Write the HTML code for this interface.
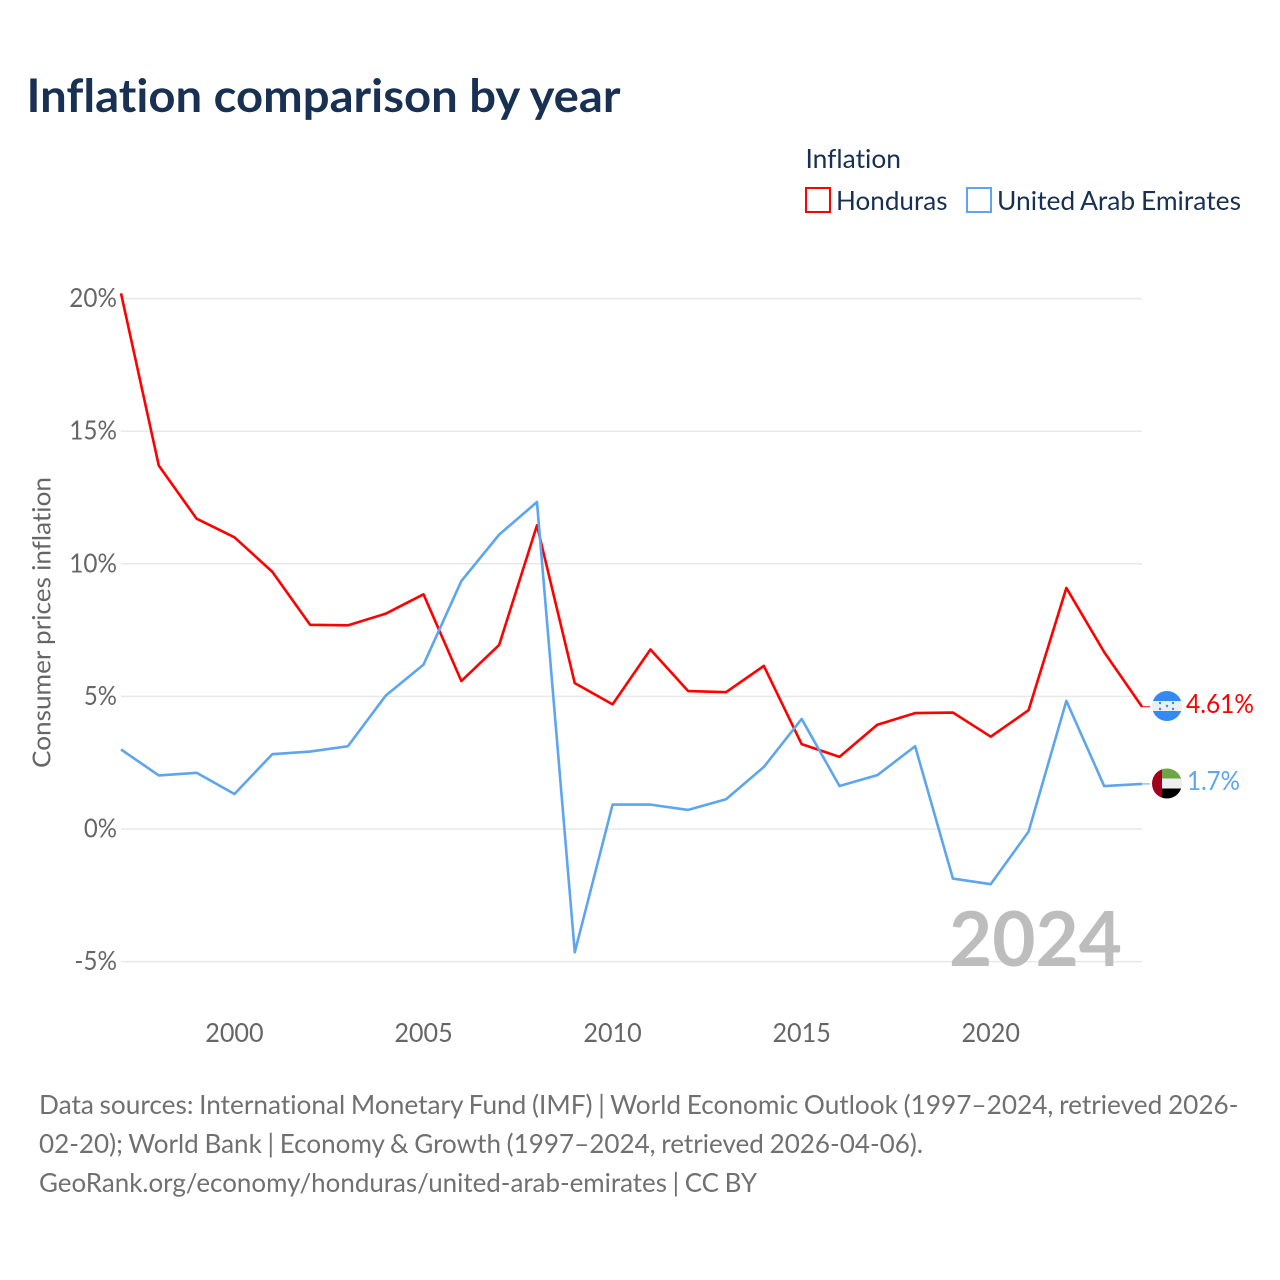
<!DOCTYPE html>
<html lang="en">
<head>
<meta charset="utf-8">
<title>Inflation comparison by year</title>
<style>
html,body{margin:0;padding:0;background:#fff;}
svg{display:block;}
text{font-family:"Lato","Carlito","Liberation Sans",sans-serif;font-variant-ligatures:none;}
</style>
</head>
<body>
<svg id="chart" xmlns="http://www.w3.org/2000/svg" width="1280" height="1280" viewBox="0 0 1280 1280">
  <defs>
    <clipPath id="clip-hn"><circle cx="1167" cy="706" r="15"/></clipPath>
    <clipPath id="clip-ae"><circle cx="1167" cy="783.5" r="15"/></clipPath>
  </defs>
  <rect x="0" y="0" width="1280" height="1280" fill="#fff"/>
  <text x="26.5" y="112" font-size="46" font-weight="700" fill="#183153" textLength="594" lengthAdjust="spacingAndGlyphs">Inflation comparison by year</text>

  <g>
    <text x="805.5" y="168" font-size="26" fill="#183153" textLength="95.5" lengthAdjust="spacingAndGlyphs">Inflation</text>
    <rect x="806" y="188" width="24" height="24" fill="none" stroke="#ff0000" stroke-width="2"/>
    <text x="836" y="210" font-size="26" fill="#183153" textLength="111.5" lengthAdjust="spacingAndGlyphs">Honduras</text>
    <rect x="967" y="188" width="24" height="24" fill="none" stroke="#5da5ee" stroke-width="2"/>
    <text x="997" y="210" font-size="26" fill="#183153" word-spacing="-1" textLength="244" lengthAdjust="spacingAndGlyphs">United Arab Emirates</text>
  </g>

  <text transform="translate(50.5,622.5) rotate(-90)" text-anchor="middle" font-size="25" fill="#666" word-spacing="-0.5" textLength="291" lengthAdjust="spacingAndGlyphs">Consumer prices inflation</text>

  <g id="grid"></g>
  <g id="y-ticks"></g>
  <g id="x-ticks"></g>

  <text x="949" y="966" font-size="76" font-weight="700" fill="#bdbdbd" textLength="173" lengthAdjust="spacingAndGlyphs">2024</text>

  <g id="series"></g>

  <g clip-path="url(#clip-hn)">
    <rect x="1152" y="691" width="30" height="30" fill="#eeeeee"/>
    <rect x="1152" y="691" width="30" height="10" fill="#338af3"/>
    <rect x="1152" y="711" width="30" height="10" fill="#338af3"/>
    <circle cx="1160" cy="703" r="1.2" fill="#338af3"/>
    <circle cx="1173" cy="703" r="1.2" fill="#338af3"/>
    <circle cx="1167" cy="706" r="1.2" fill="#338af3"/>
    <circle cx="1160" cy="709" r="1.2" fill="#338af3"/>
    <circle cx="1173" cy="709" r="1.2" fill="#338af3"/>
  </g>
  <g clip-path="url(#clip-ae)">
    <rect x="1152" y="768.5" width="30" height="10" fill="#6da544"/>
    <rect x="1152" y="778.5" width="30" height="10" fill="#eeeeee"/>
    <rect x="1152" y="788.5" width="30" height="10" fill="#000000"/>
    <rect x="1152" y="768.5" width="10" height="30" fill="#a2001d"/>
  </g>
  <text id="label-hn" x="1186" y="713" font-size="26" fill="#ff0000" textLength="68" lengthAdjust="spacingAndGlyphs"></text>
  <text id="label-ae" x="1187" y="790" font-size="26" fill="#5da5ee" textLength="53" lengthAdjust="spacingAndGlyphs"></text>

  <g font-size="26" fill="#707070" word-spacing="-1">
    <text x="39" y="1114" textLength="1199.5" lengthAdjust="spacingAndGlyphs">Data sources: International Monetary Fund (IMF) | World Economic Outlook (1997–2024, retrieved 2026-</text>
    <text x="39" y="1153" textLength="884" lengthAdjust="spacingAndGlyphs">02-20); World Bank | Economy &amp; Growth (1997–2024, retrieved 2026-04-06).</text>
    <text x="39" y="1192" textLength="718" lengthAdjust="spacingAndGlyphs">GeoRank.org/economy/honduras/united-arab-emirates | CC BY</text>
  </g>
</svg>
<script>
const years = [1997,1998,1999,2000,2001,2002,2003,2004,2005,2006,2007,2008,2009,2010,2011,2012,2013,2014,2015,2016,2017,2018,2019,2020,2021,2022,2023,2024];
const hondurasValues = [20.2,13.7,11.7,11.0,9.7,7.7,7.68,8.12,8.85,5.58,6.94,11.45,5.5,4.7,6.77,5.2,5.16,6.15,3.2,2.72,3.93,4.37,4.39,3.48,4.48,9.09,6.67,4.61];
const uaeValues = [3.0,2.02,2.12,1.32,2.82,2.92,3.12,5.03,6.2,9.35,11.1,12.33,-4.65,0.92,0.92,0.72,1.12,2.34,4.15,1.62,2.03,3.12,-1.87,-2.08,-0.1,4.83,1.62,1.7];
const yTickValues = [-5,0,5,10,15,20];
const xTickValues = [2000,2005,2010,2015,2020];

const SVG_NS = 'http://www.w3.org/2000/svg';
const xScale = v => 121 + (v - 1997) * (1142 - 121) / 27;
const yScale = v => 829 - v * 26.52;
const labelWidth = s => {
  let w = 0;
  for (const c of s) w += c === '%' ? 18.5 : c === '-' ? 9.5 : 14.6;
  return w;
};

const grid = document.getElementById('grid');
const yTicks = document.getElementById('y-ticks');
const xTicks = document.getElementById('x-ticks');
const series = document.getElementById('series');

yTickValues.forEach(v => {
  const line = document.createElementNS(SVG_NS, 'line');
  
  
  line.setAttribute('x1', 121);
  line.setAttribute('x2', 1142);
  line.setAttribute('y1', yScale(v));
  line.setAttribute('y2', yScale(v));
  line.setAttribute('stroke', '#e8e8e8');
  line.setAttribute('stroke-width', '1.5');
  grid.appendChild(line);

  const s = v + '%';
  const t = document.createElementNS(SVG_NS, 'text');
  
  
  t.setAttribute('x', 117 - labelWidth(s));
  t.setAttribute('y', yScale(v) + 8.5);
  t.setAttribute('font-size', '26');
  t.setAttribute('fill', '#666');
  t.setAttribute('textLength', labelWidth(s));
  t.setAttribute('lengthAdjust', 'spacingAndGlyphs');
  t.textContent = s;
  yTicks.appendChild(t);
});

xTickValues.forEach(v => {
  const s = String(v);
  const t = document.createElementNS(SVG_NS, 'text');
  
  
  t.setAttribute('x', xScale(v) - labelWidth(s) / 2);
  t.setAttribute('y', 1042);
  t.setAttribute('font-size', '26');
  t.setAttribute('fill', '#666');
  t.setAttribute('textLength', labelWidth(s));
  t.setAttribute('lengthAdjust', 'spacingAndGlyphs');
  t.textContent = s;
  xTicks.appendChild(t);
});

function drawSeries(values, color) {
  const pts = values.map((v, i) => xScale(years[i]) + ',' + yScale(v)).join(' ');
  const line = document.createElementNS(SVG_NS, 'polyline');
  line.setAttribute('points', pts);
  line.setAttribute('fill', 'none');
  line.setAttribute('stroke', color);
  line.setAttribute('stroke-width', '2.6');
  line.setAttribute('stroke-linejoin', 'round');
  series.appendChild(line);
  const last = values[values.length - 1];
  const conn = document.createElementNS(SVG_NS, 'line');
  conn.setAttribute('x1', xScale(years[years.length - 1]));
  conn.setAttribute('x2', 1150);
  conn.setAttribute('y1', yScale(last));
  conn.setAttribute('y2', yScale(last));
  conn.setAttribute('stroke', color);
  conn.setAttribute('stroke-width', '1');
  series.appendChild(conn);
  return [line, conn];
}

const [hnLine, hnConn] = drawSeries(hondurasValues, '#ff0000');





const [aeLine, aeConn] = drawSeries(uaeValues, '#5da5ee');





document.getElementById('label-hn').textContent = hondurasValues[hondurasValues.length - 1] + '%';
document.getElementById('label-ae').textContent = uaeValues[uaeValues.length - 1] + '%';
</script>
</body>
</html>
